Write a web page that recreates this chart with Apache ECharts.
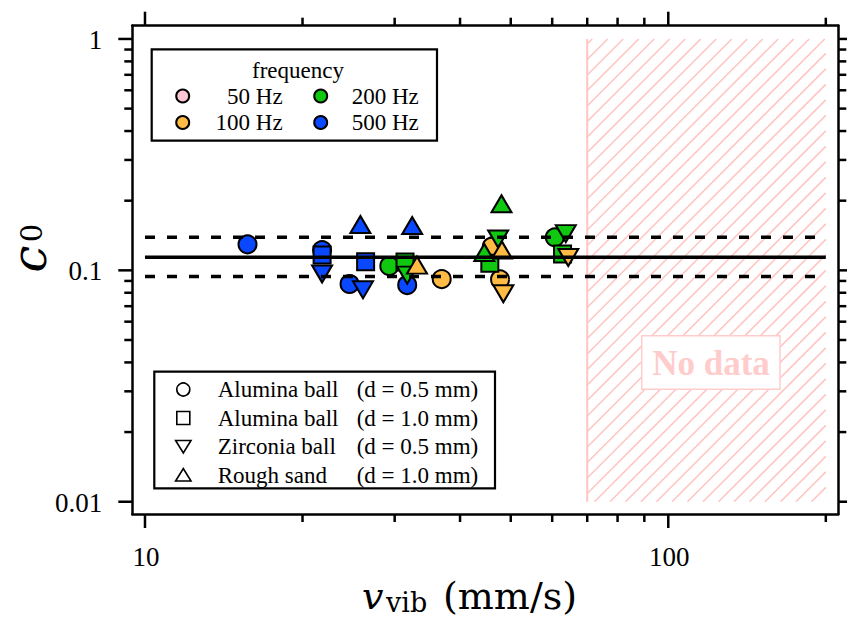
<!DOCTYPE html>
<html>
<head>
<meta charset="utf-8">
<script src="https://cdn.jsdelivr.net/npm/echarts@6/dist/echarts.min.js"></script>
<style>
  html, body { margin: 0; padding: 0; background: #fff; }
  #chart { width: 847px; height: 617px; }
</style>
</head>
<body>
<div id="chart"></div>
<script>
// ---- measured c0 values vs. vibration velocity (mm/s) ----
const alumina05_100Hz = [[36.9, 0.0917], [46.0, 0.1265], [47.7, 0.0914]];
const alumina05_200Hz = [[29.3, 0.1044], [60.7, 0.1389]];
const alumina05_500Hz = [[15.7, 0.1295], [21.8, 0.1222], [24.6, 0.0873], [31.7, 0.0864]];

const alumina10_200Hz = [[31.4, 0.1086], [45.6, 0.1072], [62.8, 0.1176]];
const alumina10_500Hz = [[21.8, 0.1165], [26.4, 0.1089]];

const zirconia05_100Hz = [[48.4, 0.0792], [64.4, 0.1136]];
const zirconia05_200Hz = [[31.7, 0.0954], [47.3, 0.1366], [63.7, 0.144]];
const zirconia05_500Hz = [[21.8, 0.0964], [26.1, 0.0824]];

const sand10_100Hz = [[33.1, 0.1054], [48.1, 0.1224]];
const sand10_200Hz = [[44.5, 0.1194], [48.0, 0.194]];
const sand10_500Hz = [[25.8, 0.1578], [32.4, 0.1562]];

// mean c0 and its band
const c0Mean = 0.114;
const c0Upper = 0.139;
const c0Lower = 0.094;
const fitRange = [10, 200];

// velocity range without measurements
const noDataX = [70, 200];
const noDataY = [0.01, 1];

// axis ticks
const xMajorTicks = [10, 100];
const xMinorTicks = [20, 30, 40, 50, 60, 70, 80, 90, 200];
const yMajorTicks = [0.01, 0.1, 1];
const yMinorTicks = [0.02, 0.03, 0.04, 0.05, 0.06, 0.07, 0.08, 0.09,
                     0.2, 0.3, 0.4, 0.5, 0.6, 0.7, 0.8, 0.9];
const xTickLabels = ['10', '100'];
const yTickLabels = ['0.01', '0.1', '1'];

const freqLabels = ['50 Hz', '100 Hz', '200 Hz', '500 Hz'];
const materialLabels = ['Alumina ball', 'Alumina ball', 'Zirconia ball', 'Rough sand'];
const sizeLabels = ['(d = 0.5 mm)', '(d = 1.0 mm)', '(d = 0.5 mm)', '(d = 1.0 mm)'];

// ---- styling ----
const X_MIN = 9.457, X_MAX = 211.3, Y_MIN = 0.00885, Y_MAX = 1.141;
const SERIF = '"Liberation Serif", "Times New Roman", serif';
const TITLE_FONT = '"DejaVu Serif", serif';
const colors = { '50': '#ffc6d6', '100': '#ffbb44', '200': '#10c810', '500': '#0a48ff' };
const hatchColor = '#ffc4c4';

const shapes = {
  circle: { symbol: 'circle', size: 18, rotate: 0 },
  square: { symbol: 'rect', size: 17, rotate: 0 },
  down: { symbol: 'triangle', size: [20, 17], rotate: 180 },
  up: { symbol: 'triangle', size: [20, 17], rotate: 0 }
};

function scatter(name, data, shape, freq) {
  const s = shapes[shape];
  return {
    name: name, type: 'scatter', data: data,
    symbol: s.symbol, symbolSize: s.size, symbolRotate: s.rotate,
    itemStyle: { color: colors[freq], borderColor: '#000', borderWidth: 2, opacity: 1 },
    emphasis: { disabled: true },
    z: 3, silent: true
  };
}

function refLine(value, dashed) {
  return {
    type: 'line', data: [[fitRange[0], value], [fitRange[1], value]],
    symbol: 'none', silent: true, z: 5,
    lineStyle: { color: '#000', width: 3.5, type: dashed ? [10, 12] : 'solid' }
  };
}

// hatched "no data" band, drawn through the axis scales
function renderHatch(params, api) {
  const p0 = api.coord([api.value(0), api.value(3)]);
  const p1 = api.coord([api.value(1), api.value(2)]);
  const x0 = p0[0], y0 = p0[1], x1 = p1[0], y1 = p1[1];
  const step = 15.5;
  const children = [{
    type: 'line', shape: { x1: x0, y1: y0, x2: x0, y2: y1 },
    style: { stroke: hatchColor, lineWidth: 2 }
  }];
  for (let c = x0 + y0 + 5 - step * 40; c <= x1 + y1; c += step) {
    if (c < x0 + y0) continue;
    const xa = Math.max(x0, c - y1), xb = Math.min(x1, c - y0);
    if (xb <= xa) continue;
    children.push({
      type: 'line', shape: { x1: xa, y1: c - xa, x2: xb, y2: c - xb },
      style: { stroke: hatchColor, lineWidth: 1.5 }
    });
  }
  return { type: 'group', children: children };
}

// outward ticks on all four sides plus tick labels
function renderTicks(params, api) {
  const bl = api.coord([X_MIN, Y_MIN]);
  const tr = api.coord([X_MAX, Y_MAX]);
  const left = bl[0], bottom = bl[1], right = tr[0], top = tr[1];
  const children = [];
  const tick = (x1, y1, x2, y2) => children.push({
    type: 'line', shape: { x1, y1, x2, y2 },
    style: { stroke: '#000', lineWidth: 2.5 }
  });
  xMajorTicks.forEach(v => { const x = api.coord([v, Y_MIN])[0]; tick(x, bottom, x, bottom + 14); tick(x, top, x, top - 14); });
  xMinorTicks.forEach(v => { const x = api.coord([v, Y_MIN])[0]; tick(x, bottom, x, bottom + 8); tick(x, top, x, top - 8); });
  yMajorTicks.forEach(v => { const y = api.coord([X_MIN, v])[1]; tick(left, y, left - 14, y); tick(right, y, right + 14, y); });
  yMinorTicks.forEach(v => { const y = api.coord([X_MIN, v])[1]; tick(left, y, left - 8, y); tick(right, y, right + 8, y); });
  xMajorTicks.forEach((v, i) => {
    const x = api.coord([v, Y_MIN])[0];
    children.push({ type: 'text', style: { text: xTickLabels[i], x: x + 1, y: bottom + 43,
      font: '27px ' + SERIF, fill: '#000', align: 'center', verticalAlign: 'middle' } });
  });
  yMajorTicks.forEach((v, i) => {
    const y = api.coord([X_MIN, v])[1];
    children.push({ type: 'text', style: { text: yTickLabels[i], x: left - 30, y: y + 1,
      font: '27px ' + SERIF, fill: '#000', align: 'right', verticalAlign: 'middle' } });
  });
  return { type: 'group', children: children };
}

const logAxis = (min, max, pos) => ({
  type: 'log', logBase: 10, min: min, max: max, position: pos,
  axisLine: { show: true, onZero: false, lineStyle: { color: '#000', width: 2.5 } },
  axisTick: { show: false }, axisLabel: { show: false }, splitLine: { show: false },
  minorTick: { show: false }
});

const series = [
  {
    type: 'custom', renderItem: renderHatch, silent: true, z: 1, clip: false,
    data: [[noDataX[0], noDataX[1], noDataY[0], noDataY[1]]]
  },
  scatter('Alumina 0.5 / 100 Hz', alumina05_100Hz, 'circle', '100'),
  scatter('Alumina 0.5 / 200 Hz', alumina05_200Hz, 'circle', '200'),
  scatter('Alumina 0.5 / 500 Hz', alumina05_500Hz, 'circle', '500'),
  scatter('Alumina 1.0 / 200 Hz', alumina10_200Hz, 'square', '200'),
  scatter('Alumina 1.0 / 500 Hz', alumina10_500Hz, 'square', '500'),
  scatter('Zirconia 0.5 / 100 Hz', zirconia05_100Hz, 'down', '100'),
  scatter('Zirconia 0.5 / 200 Hz', zirconia05_200Hz, 'down', '200'),
  scatter('Zirconia 0.5 / 500 Hz', zirconia05_500Hz, 'down', '500'),
  scatter('Sand 1.0 / 100 Hz', sand10_100Hz, 'up', '100'),
  scatter('Sand 1.0 / 200 Hz', sand10_200Hz, 'up', '200'),
  scatter('Sand 1.0 / 500 Hz', sand10_500Hz, 'up', '500'),
  refLine(c0Mean, false),
  refLine(c0Upper, true),
  refLine(c0Lower, true),
  {
    type: 'custom', renderItem: renderTicks, silent: true, z: 6, clip: false,
    data: [[X_MIN, Y_MIN]]
  }
];

// ---- legends and annotations ----
const graphic = [];
const txt = (text, x, y, font, align, extra) => Object.assign({
  type: 'text', z: 21,
  style: { text: text, x: x, y: y, font: font, fill: '#000', align: align, verticalAlign: 'middle' }
}, extra || {});

// frequency legend
graphic.push({ type: 'rect', shape: { x: 151.7, y: 49.3, width: 285.3, height: 91.4 },
  style: { fill: '#fff', stroke: '#000', lineWidth: 2.2 }, z: 20 });
graphic.push(txt('frequency', 298, 70, '23px ' + SERIF, 'center'));
const freqKeys = ['50', '100', '200', '500'];
freqKeys.forEach((k, i) => {
  const col = i < 2 ? 0 : 1, row = i % 2;
  const cx = col === 0 ? 182.7 : 320.7, cy = row === 0 ? 96 : 122.5;
  graphic.push({ type: 'circle', shape: { cx: cx, cy: cy, r: 6.5 },
    style: { fill: colors[k], stroke: '#000', lineWidth: 2 }, z: 21 });
  graphic.push(txt(freqLabels[i], col === 0 ? 282.7 : 351.7, cy, '23px ' + SERIF, col === 0 ? 'right' : 'left'));
});

// material legend
graphic.push({ type: 'rect', shape: { x: 154.3, y: 371.7, width: 340.7, height: 116.6 },
  style: { fill: '#fff', stroke: '#000', lineWidth: 2.2 }, z: 20 });
const rowY = [389.5, 418, 446.5, 475];
const mk = { stroke: '#000', lineWidth: 1.6, fill: '#fff' };
graphic.push({ type: 'circle', shape: { cx: 183.3, cy: rowY[0], r: 6.5 }, style: mk, z: 21 });
graphic.push({ type: 'rect', shape: { x: 176.8, y: rowY[1] - 6.5, width: 13, height: 13 }, style: mk, z: 21 });
graphic.push({ type: 'polygon', shape: { points: [[175.6, rowY[2] - 6], [191, rowY[2] - 6], [183.3, rowY[2] + 6.5]] }, style: mk, z: 21 });
graphic.push({ type: 'polygon', shape: { points: [[175.6, rowY[3] + 6], [191, rowY[3] + 6], [183.3, rowY[3] - 6.5]] }, style: mk, z: 21 });
rowY.forEach((y, i) => {
  graphic.push(txt(materialLabels[i], 217.7, y, '23px ' + SERIF, 'left'));
  graphic.push(txt(sizeLabels[i], 356.7, y, '23px ' + SERIF, 'left'));
});

// "No data" tag
graphic.push({ type: 'rect', shape: { x: 641.7, y: 335.7, width: 138.3, height: 53.6 },
  style: { fill: '#fff', stroke: '#ffcccc', lineWidth: 1.5 }, z: 20 });
graphic.push({ type: 'text', z: 21, style: { text: 'No data', x: 711, y: 363, font: 'bold 35px ' + SERIF,
  fill: '#ffcccc', align: 'center', verticalAlign: 'middle' } });

// axis titles: v_vib (mm/s) and c_0
graphic.push(txt('v', 362, 596, 'italic 38px ' + TITLE_FONT, 'left'));
graphic.push(txt('vib', 386, 602, '27px ' + TITLE_FONT, 'left'));
graphic.push(txt('(mm/s)', 443, 596, '38px ' + TITLE_FONT, 'left'));
graphic.push(txt('c', 29, 259, 'italic 48px ' + TITLE_FONT, 'center', { rotation: Math.PI / 2 }));
graphic.push(txt('0', 31.5, 233, '29px ' + TITLE_FONT, 'center', { rotation: Math.PI / 2 }));
// rotated texts: position passed via element transform
graphic.slice(-2).forEach(g => { g.x = g.style.x; g.y = g.style.y; g.style.x = 0; g.style.y = 0; });

const chart = echarts.init(document.getElementById('chart'), null, { renderer: 'svg' });
chart.setOption({
  animation: false,
  backgroundColor: '#fff',
  grid: { left: 132.3, right: 8.7, top: 25.7, bottom: 103, containLabel: false },
  xAxis: [logAxis(X_MIN, X_MAX, 'bottom'), logAxis(X_MIN, X_MAX, 'top')],
  yAxis: [logAxis(Y_MIN, Y_MAX, 'left'), logAxis(Y_MIN, Y_MAX, 'right')],
  series: series,
  graphic: graphic
});
</script>
</body>
</html>
